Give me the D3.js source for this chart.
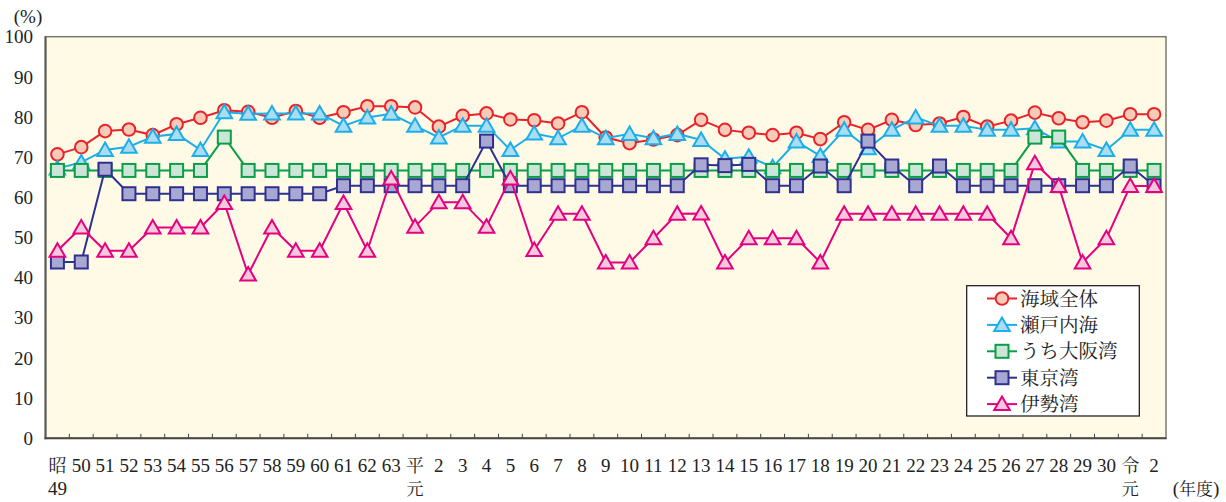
<!DOCTYPE html>
<html><head><meta charset="utf-8">
<script src="https://cdn.jsdelivr.net/npm/d3@7"></script>
<style>
html,body{margin:0;padding:0;background:#fff;}
svg{display:block;}
text{font-family:"DejaVu Serif","Liberation Serif",serif;fill:#222;}
.num{font-family:"Liberation Serif","DejaVu Serif",serif;}
.cjk{font-family:"Noto Serif CJK JP","Noto Sans CJK JP",sans-serif;}
</style></head>
<body>
<svg id="chart" width="1226" height="502"></svg>
<script>
const categories = ["昭\n49","50","51","52","53","54","55","56","57","58","59","60","61","62","63",
  "平\n元","2","3","4","5","6","7","8","9","10","11","12","13","14","15","16","17","18","19","20",
  "21","22","23","24","25","26","27","28","29","30","令\n元","2"];
const yTicks = [0,10,20,30,40,50,60,70,80,90,100];
const seriesNames = ["海域全体","瀬戸内海","うち大阪湾","東京湾","伊勢湾"];

const seaAll = [70.7,72.5,76.5,76.9,75.5,78.2,79.8,81.7,81.3,79.8,81.5,79.8,81.2,82.7,82.7,
  82.4,77.6,80.3,80.9,79.4,79.2,78.4,81.2,74.9,73.5,74.4,75.5,79.3,76.8,76.1,75.5,76.1,74.5,78.7,76.8,
  79.3,78.0,78.4,80.0,77.6,79.1,81.1,79.7,78.7,79.1,80.7,80.7];
const seto = [67.2,68.7,71.8,72.6,75.1,75.8,71.8,81.2,80.8,80.9,80.9,80.9,77.8,79.9,80.8,
  77.8,74.9,77.8,77.8,71.8,75.9,74.7,77.8,74.7,75.8,74.7,75.8,74.3,69.6,70.1,67.5,73.9,70.3,76.8,72.2,
  76.8,79.9,77.8,77.8,76.8,76.8,77.2,73.9,73.9,71.8,76.8,76.8];
const osaka = [66.7,66.7,66.7,66.7,66.7,66.7,66.7,75.0,66.7,66.7,66.7,66.7,66.7,66.7,66.7,
  66.7,66.7,66.7,66.7,66.7,66.7,66.7,66.7,66.7,66.7,66.7,66.7,66.7,66.7,66.7,66.7,66.7,66.7,66.7,66.7,
  66.7,66.7,66.7,66.7,66.7,66.7,75.0,75.0,66.7,66.7,66.7,66.7];
const tokyo = [43.9,43.9,67.0,60.9,60.9,60.9,60.9,60.9,60.9,60.9,60.9,60.9,62.9,62.9,62.9,
  62.9,62.9,62.9,74.0,62.9,62.9,62.9,62.9,62.9,62.9,62.9,62.9,68.1,67.9,68.2,62.9,62.9,67.8,62.9,74.0,
  67.8,62.9,67.8,62.9,62.9,62.9,62.9,62.9,62.9,62.9,67.8,62.9];
const ise = [46.7,52.5,46.7,46.7,52.5,52.5,52.5,58.6,40.8,52.5,46.7,46.7,58.6,46.7,64.7,
  52.7,58.8,58.8,52.7,64.7,46.9,55.9,55.9,43.8,43.8,49.8,55.9,56.0,43.8,49.8,49.8,49.8,43.8,55.9,55.9,
  55.9,55.9,55.9,55.9,55.9,49.8,68.5,62.8,43.8,49.8,62.8,62.8];

const series = [
  {name: seriesNames[0], values: seaAll, stroke:"#E8242B", fill:"#F8CBB8", shape:"circle"},
  {name: seriesNames[1], values: seto,   stroke:"#1BAEE9", fill:"#AADCF4", shape:"triangle"},
  {name: seriesNames[2], values: osaka,  stroke:"#0B9E48", fill:"#CBE6D6", shape:"square"},
  {name: seriesNames[3], values: tokyo,  stroke:"#2E3190", fill:"#A9A8D3", shape:"square"},
  {name: seriesNames[4], values: ise,    stroke:"#E5007F", fill:"#F6C8DD", shape:"triangle"}
];

const svg = d3.select("#chart");
const L = 45.5, R = 1166, T = 36.7, B = 438.3;

const x = d3.scaleBand().domain(d3.range(categories.length)).range([L, R]).padding(0);
const y = d3.scaleLinear().domain([0, 100]).range([B, T]);
const cx = i => x(i) + x.bandwidth() / 2;
const isCJK = s => /[^\x00-\x7F]/.test(s);

svg.append("rect").attr("x", L).attr("y", T).attr("width", R - L).attr("height", B - T)
  .attr("fill", "#FEFAE6").attr("stroke", "#7a7a72").attr("stroke-width", 1.5);

const tickG = svg.append("g");
d3.range(1, categories.length).forEach(i => {
  tickG.append("line").attr("x1", x(i)).attr("x2", x(i)).attr("y1", B).attr("y2", B - 4.5)
    .attr("stroke", "#444").attr("stroke-width", 1);
});
svg.append("line").attr("x1", L).attr("x2", L).attr("y1", T - 0.5).attr("y2", B + 1)
  .attr("stroke", "#5a5a55").attr("stroke-width", 2);
svg.append("line").attr("x1", L - 1).attr("x2", R + 0.5).attr("y1", B).attr("y2", B)
  .attr("stroke", "#4a4a45").attr("stroke-width", 2);

// y labels
svg.append("g").selectAll("text").data(yTicks).join("text").attr("class", "num")
  .attr("x", 33).attr("y", d => y(d)).attr("dy", "0.35em").attr("text-anchor", "end")
  .attr("font-size", 19).text(d => d);

// x labels
svg.append("g").selectAll("text").data(categories).join("text").attr("class", "num")
  .attr("x", (d, i) => cx(i)).attr("y", 472).attr("text-anchor", "middle").attr("font-size", 19)
  .each(function(d) {
    const parts = d.split("\n");
    const t = d3.select(this);
    const tx = t.attr("x");
    t.append("tspan").attr("x", tx).attr("y", 472).attr("class", isCJK(parts[0]) ? "cjk" : null)
      .attr("font-size", isCJK(parts[0]) ? 18 : 19).text(parts[0]);
    if (parts[1]) t.append("tspan").attr("x", tx).attr("y", 495).attr("class", isCJK(parts[1]) ? "cjk" : null)
      .attr("font-size", isCJK(parts[1]) ? 17 : 19).text(parts[1]);
  });

// unit labels
svg.append("text").attr("class", "num").attr("x", 28).attr("y", 23).attr("text-anchor", "middle").attr("font-size", 19).text("(%)");
const ud = svg.append("text").attr("class", "num").attr("x", 1196).attr("y", 495).attr("text-anchor", "middle").attr("font-size", 19);
ud.append("tspan").text("(");
ud.append("tspan").attr("class", "cjk").attr("font-size", 17).text("年度");
ud.append("tspan").text(")");

function drawMarker(g, shape, px, py) {
  if (shape === "circle") {
    return g.append("circle").attr("cx", px).attr("cy", py).attr("r", 6.3);
  } else if (shape === "square") {
    return g.append("rect").attr("x", px - 6.5).attr("y", py - 6.5).attr("width", 13).attr("height", 13);
  } else {
    return g.append("path").attr("d", `M${px},${py - 7.5}L${px + 7.8},${py + 6}L${px - 7.8},${py + 6}Z`);
  }
}

const line = d3.line().x((d, i) => cx(i)).y(d => y(d));
series.forEach(s => {
  const g = svg.append("g");
  g.append("path").attr("d", line(s.values)).attr("fill", "none")
    .attr("stroke", s.stroke).attr("stroke-width", 2);
  s.values.forEach((v, i) => {
    drawMarker(g, s.shape, cx(i), y(v)).attr("fill", s.fill).attr("stroke", s.stroke).attr("stroke-width", 2);
  });
});

// legend
const lg = svg.append("g");
lg.append("rect").attr("x", 966.7).attr("y", 285.7).attr("width", 172.6).attr("height", 130.3)
  .attr("fill", "#fff").attr("stroke", "#111").attr("stroke-width", 1.2);
series.forEach((s, k) => {
  const ly = 298.5 + k * 26.4;
  lg.append("line").attr("x1", 987).attr("x2", 1017).attr("y1", ly).attr("y2", ly)
    .attr("stroke", s.stroke).attr("stroke-width", 2);
  drawMarker(lg, s.shape, 1002, ly).attr("fill", s.fill).attr("stroke", s.stroke).attr("stroke-width", 2);
  lg.append("text").attr("class", "cjk").attr("x", 1020).attr("y", ly).attr("dy", "0.36em")
    .attr("font-size", 19.5).text(s.name);
});
</script>
</body></html>
